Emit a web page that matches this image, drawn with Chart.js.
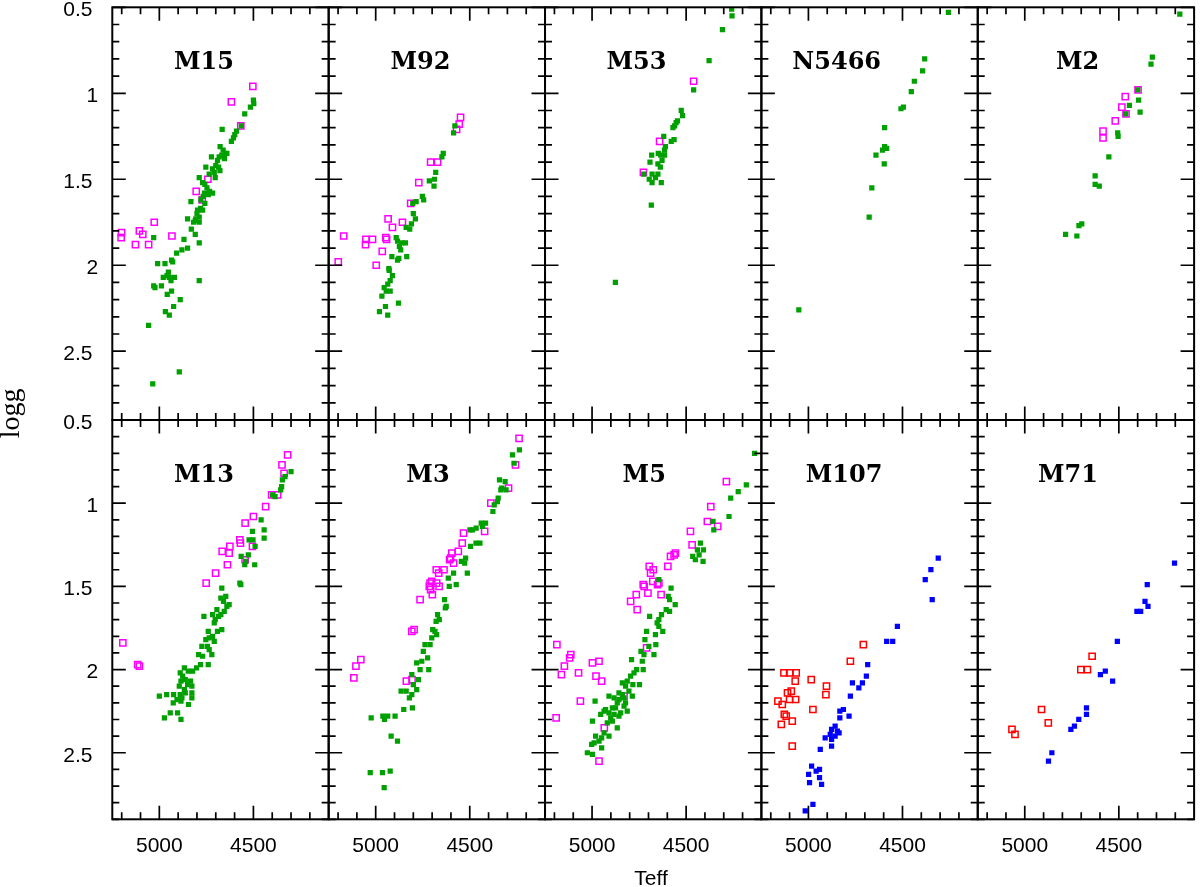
<!DOCTYPE html>
<html>
<head>
<meta charset="utf-8">
<title>Teff - logg</title>
<script src="https://cdn.jsdelivr.net/npm/chart.js@4.4.1/dist/chart.umd.min.js"></script>
<style>
  html, body { margin: 0; padding: 0; background: #fff; }
  #wrap { width: 1200px; height: 887px; }
</style>
</head>
<body>
<div id="wrap"><canvas id="c" width="1200" height="887"></canvas></div>
<script>
// axis ranges and ticks
const teffMin = 4100, teffMax = 5250;
const loggMin = 0.5, loggMax = 2.9;
const teffTicks = [5200, 5100, 5000, 4900, 4800, 4700, 4600, 4500, 4400, 4300, 4200];
const teffLabels = [5000, 4500];
const loggTicks = [0.5, 0.6, 0.7, 0.8, 0.9, 1, 1.1, 1.2, 1.3, 1.4, 1.5, 1.6, 1.7, 1.8, 1.9,
                   2, 2.1, 2.2, 2.3, 2.4, 2.5, 2.6, 2.7, 2.8, 2.9];
const loggLabels = [0.5, 1, 1.5, 2, 2.5];

// [Teff, logg] pairs
const m15Filled = [[4500,1.04],[4498,1.06],[4516,1.08],[4546,1.12],[4564,1.19],[4590,1.22],[4599,1.24],[4606,1.26],[4617,1.28],[4666,1.21],[4677,1.31],[4661,1.33],[4650,1.35],[4641,1.35],[4668,1.36],[4654,1.38],[4682,1.37],[4691,1.39],[4723,1.37],[4700,1.42],[4685,1.43],[4678,1.45],[4717,1.44],[4708,1.46],[4753,1.43],[4735,1.47],[4703,1.49],[4788,1.49],[4770,1.52],[4758,1.53],[4747,1.55],[4733,1.57],[4717,1.58],[4740,1.59],[4760,1.58],[4767,1.60],[4779,1.62],[4758,1.64],[4832,1.63],[4781,1.67],[4797,1.68],[4800,1.70],[4770,1.68],[4788,1.72],[4806,1.73],[4850,1.73],[4809,1.74],[4788,1.75],[4818,1.75],[4830,1.79],[4809,1.82],[4788,1.87],[4869,1.85],[4850,1.90],[4880,1.91],[4908,1.93],[5030,1.84],[5009,1.99],[4970,1.99],[4935,1.97],[4929,1.98],[4952,2.04],[4959,2.06],[4979,2.07],[4947,2.07],[4920,2.07],[4938,2.09],[4989,2.12],[5030,2.12],[5023,2.13],[4935,2.15],[4958,2.17],[4889,2.20],[4924,2.24],[4968,2.27],[4947,2.29],[4788,2.09],[5057,2.35],[4894,2.62],[5035,2.69]];
const m15Open = [[4503,0.96],[4617,1.05],[4567,1.19],[4742,1.50],[4804,1.57],[4772,1.62],[5027,1.75],[5201,1.81],[5106,1.80],[5203,1.84],[5088,1.82],[5127,1.88],[5057,1.88],[4933,1.83]];

const m92Filled = [[4579,1.19],[4586,1.23],[4641,1.35],[4648,1.37],[4681,1.46],[4688,1.50],[4715,1.51],[4690,1.54],[4752,1.60],[4745,1.62],[4785,1.63],[4803,1.64],[4800,1.70],[4789,1.73],[4810,1.76],[4838,1.78],[4819,1.79],[4891,1.84],[4884,1.86],[4861,1.87],[4842,1.87],[4874,1.89],[4867,1.91],[4914,1.95],[4877,1.96],[4884,1.97],[4835,1.95],[4930,2.02],[4928,2.03],[4911,2.06],[4923,2.09],[4936,2.11],[4955,2.13],[4923,2.15],[4944,2.15],[4967,2.18],[4879,2.22],[4948,2.24],[4980,2.27],[4936,2.29]];
const m92Open = [[4549,1.14],[4556,1.18],[4570,1.21],[4708,1.40],[4671,1.40],[4771,1.52],[4814,1.64],[4934,1.73],[4911,1.78],[4858,1.75],[5170,1.83],[5052,1.85],[5017,1.85],[5054,1.88],[4946,1.84],[4942,1.85],[4965,1.92],[5199,1.98],[4997,2.00]];

const m53Filled = [[4258,0.51],[4256,0.55],[4307,0.63],[4378,0.81],[4460,0.98],[4526,1.10],[4519,1.13],[4546,1.16],[4553,1.17],[4561,1.19],[4570,1.20],[4619,1.25],[4564,1.27],[4579,1.28],[4610,1.31],[4615,1.33],[4648,1.35],[4615,1.36],[4683,1.36],[4635,1.36],[4628,1.39],[4692,1.40],[4650,1.41],[4637,1.43],[4681,1.47],[4650,1.47],[4725,1.47],[4663,1.49],[4696,1.50],[4681,1.52],[4632,1.52],[4685,1.65],[4876,2.10]];
const m53Open = [[4460,0.93],[4641,1.28],[4727,1.46]];

const n5466Filled = [[4256,0.53],[4382,0.80],[4393,0.87],[4437,0.93],[4453,0.99],[4495,1.08],[4508,1.09],[4595,1.20],[4595,1.31],[4584,1.32],[4606,1.33],[4641,1.36],[4597,1.41],[4663,1.55],[4677,1.72],[5051,2.26]];
const n5466Open = [];

const m2Filled = [[4176,0.54],[4322,0.79],[4329,0.83],[4400,0.98],[4395,1.04],[4444,1.07],[4387,1.11],[4464,1.12],[4506,1.23],[4504,1.25],[4553,1.37],[4626,1.48],[4626,1.53],[4604,1.54],[4697,1.76],[4712,1.77],[4783,1.82],[4723,1.83]];
const m2Open = [[4398,0.98],[4466,1.02],[4484,1.08],[4462,1.12],[4519,1.16],[4584,1.22],[4584,1.26]];

const m13Filled = [[4300,0.81],[4332,0.84],[4346,0.86],[4350,0.90],[4355,0.92],[4399,0.95],[4385,0.96],[4459,1.10],[4443,1.16],[4505,1.17],[4443,1.21],[4502,1.22],[4523,1.22],[4491,1.26],[4527,1.31],[4565,1.32],[4541,1.35],[4546,1.37],[4493,1.37],[4572,1.48],[4567,1.49],[4668,1.51],[4647,1.56],[4673,1.57],[4659,1.59],[4629,1.61],[4641,1.62],[4694,1.64],[4655,1.65],[4673,1.67],[4717,1.67],[4763,1.68],[4685,1.68],[4703,1.70],[4708,1.72],[4668,1.76],[4740,1.77],[4691,1.77],[4717,1.80],[4735,1.81],[4753,1.82],[4708,1.83],[4774,1.86],[4744,1.86],[4735,1.88],[4721,1.91],[4791,1.91],[4770,1.92],[4740,1.97],[4781,1.97],[4802,1.99],[4823,2.01],[4846,2.01],[4867,1.99],[4889,2.02],[4876,2.04],[4862,2.06],[4885,2.07],[4834,2.07],[4827,2.10],[4850,2.09],[4894,2.10],[4867,2.12],[4889,2.15],[4827,2.14],[4862,2.14],[4827,2.17],[4880,2.17],[4906,2.18],[4885,2.19],[4926,2.20],[4845,2.21],[5000,2.16],[4961,2.15],[4924,2.15],[4942,2.26],[4903,2.26],[4973,2.29],[4885,2.30]];
const m13Open = [[4318,0.71],[4348,0.77],[4337,0.82],[4403,0.95],[4371,0.95],[4435,1.02],[4500,1.08],[4544,1.12],[4572,1.22],[4569,1.24],[4625,1.26],[4666,1.29],[4629,1.30],[4505,1.26],[4544,1.34],[4638,1.37],[4701,1.42],[4751,1.48],[5194,1.84],[5115,1.97],[5106,1.98]];

const m3Filled = [[4236,0.68],[4273,0.71],[4264,0.76],[4312,0.87],[4342,0.86],[4330,0.91],[4335,0.92],[4307,0.92],[4349,0.97],[4353,0.99],[4370,1.01],[4377,1.05],[4416,1.12],[4439,1.12],[4432,1.14],[4466,1.15],[4485,1.16],[4499,1.16],[4446,1.24],[4467,1.24],[4496,1.26],[4522,1.33],[4545,1.35],[4527,1.36],[4586,1.42],[4513,1.42],[4614,1.45],[4572,1.49],[4609,1.50],[4634,1.58],[4625,1.62],[4630,1.63],[4671,1.67],[4662,1.70],[4679,1.71],[4697,1.76],[4685,1.77],[4676,1.79],[4702,1.81],[4738,1.85],[4711,1.85],[4747,1.89],[4724,1.93],[4755,1.95],[4782,1.96],[4764,2.00],[4718,2.00],[4808,2.03],[4773,2.06],[4800,2.09],[4782,2.12],[4865,2.13],[4838,2.13],[4808,2.15],[4821,2.17],[4851,2.24],[4805,2.23],[5024,2.29],[4962,2.28],[4953,2.30],[4936,2.28],[4897,2.28],[4918,2.40],[4884,2.43],[5029,2.62],[4964,2.62],[4923,2.61],[4955,2.71]];
const m3Open = [[4238,0.61],[4257,0.77],[4294,0.91],[4388,1.00],[4421,1.17],[4533,1.18],[4540,1.24],[4561,1.29],[4595,1.30],[4607,1.34],[4586,1.36],[4602,1.33],[4678,1.40],[4665,1.42],[4637,1.40],[4702,1.47],[4711,1.48],[4676,1.48],[4663,1.50],[4715,1.50],[4708,1.52],[4699,1.55],[4764,1.58],[4808,1.77],[4796,1.76],[5079,1.94],[5105,1.98],[5116,2.05],[4837,2.07],[4807,2.06]];

const m5Filled = [[4136,0.70],[4180,0.89],[4223,0.93],[4263,0.97],[4272,1.08],[4357,1.11],[4353,1.16],[4424,1.24],[4408,1.28],[4440,1.28],[4431,1.31],[4465,1.32],[4451,1.34],[4410,1.35],[4645,1.46],[4580,1.51],[4595,1.56],[4588,1.58],[4558,1.61],[4606,1.64],[4588,1.65],[4631,1.67],[4694,1.68],[4645,1.70],[4654,1.72],[4645,1.74],[4624,1.77],[4663,1.79],[4710,1.77],[4719,1.82],[4661,1.85],[4698,1.86],[4740,1.89],[4724,1.91],[4671,1.91],[4733,1.95],[4790,1.94],[4728,2.00],[4763,2.00],[4777,2.02],[4795,2.04],[4813,2.07],[4839,2.08],[4783,2.09],[4748,2.09],[4822,2.10],[4804,2.13],[4839,2.15],[4786,2.16],[4910,2.16],[4883,2.17],[4857,2.18],[4866,2.20],[4822,2.20],[4984,2.19],[4928,2.24],[4892,2.23],[4830,2.22],[4875,2.23],[4848,2.26],[4813,2.25],[4910,2.26],[4936,2.25],[4954,2.27],[4883,2.27],[4901,2.29],[4857,2.28],[4892,2.31],[4998,2.31],[4919,2.32],[4866,2.35],[4936,2.38],[4949,2.41],[4981,2.40],[4910,2.40],[4963,2.43],[4989,2.44],[5002,2.45],[4949,2.47],[5025,2.50],[4998,2.51],[4857,2.14],[4830,2.17]];
const m5Open = [[4286,0.87],[4369,1.02],[4387,1.11],[4332,1.14],[4477,1.17],[4468,1.25],[4557,1.30],[4564,1.31],[4583,1.32],[4597,1.38],[4696,1.38],[4675,1.40],[4689,1.42],[4677,1.47],[4645,1.48],[4652,1.49],[4728,1.49],[4723,1.50],[4703,1.54],[4633,1.55],[4765,1.55],[4795,1.59],[4760,1.64],[4710,1.87],[5187,1.85],[5113,1.91],[5119,1.93],[5147,1.98],[5163,2.03],[5072,2.02],[4998,1.96],[4963,1.95],[4979,2.04],[4949,2.07],[5062,2.19],[4830,2.16],[5191,2.29],[4935,2.35],[4963,2.55]];

const m107Filled = [[4310,1.33],[4349,1.40],[4379,1.46],[4342,1.58],[4527,1.74],[4584,1.83],[4552,1.83],[4685,1.97],[4692,2.04],[4766,2.08],[4713,2.08],[4732,2.11],[4777,2.16],[4814,2.24],[4833,2.25],[4833,2.29],[4784,2.28],[4858,2.34],[4877,2.36],[4846,2.37],[4837,2.38],[4884,2.39],[4858,2.40],[4911,2.41],[4877,2.42],[4877,2.46],[4937,2.48],[4983,2.58],[4941,2.60],[4959,2.61],[4999,2.63],[4941,2.65],[4994,2.68],[4930,2.69],[4976,2.81],[5017,2.85]];
const m107Open = [[4708,1.85],[4777,1.95],[4985,2.06],[4904,2.10],[4907,2.15],[4976,2.24],[5130,2.02],[5100,2.02],[5065,2.02],[5070,2.07],[5111,2.14],[5091,2.13],[5100,2.18],[5068,2.18],[5162,2.19],[5139,2.21],[5128,2.27],[5118,2.28],[5086,2.31],[5144,2.33],[5086,2.46]];

const m71Filled = [[4204,1.36],[4349,1.49],[4361,1.59],[4345,1.62],[4404,1.65],[4384,1.65],[4508,1.83],[4572,2.01],[4598,2.03],[4533,2.07],[4672,2.23],[4672,2.27],[4713,2.30],[4736,2.34],[4755,2.36],[4856,2.50],[4874,2.55]];
const m71Open = [[4642,1.92],[4702,2.00],[4667,2.00],[4911,2.24],[4875,2.32],[5068,2.36],[5052,2.39]];

const clusterNames = ['M15', 'M92', 'M53', 'N5466', 'M2', 'M13', 'M3', 'M5', 'M107', 'M71'];
const filledSets = [m15Filled, m92Filled, m53Filled, n5466Filled, m2Filled, m13Filled, m3Filled, m5Filled, m107Filled, m71Filled];
const openSets = [m15Open, m92Open, m53Open, n5466Open, m2Open, m13Open, m3Open, m5Open, m107Open, m71Open];

// styling
const green = '#00a000', magenta = '#ff00ff', blue = '#0000ff', red = '#ff0000';
const filledColors = [green, green, green, green, green, green, green, green, blue, blue];
const openColors = [magenta, magenta, magenta, magenta, magenta, magenta, magenta, magenta, red, red];
const labelCenter = [91.7, 91.7, 91.5, 75.3, 99.8, 91.7, 99.3, 99.2, 82.7, 90.3]; // px from panel left
const rowWeights = [412.7, 399.3];
const tickFont = { family: "'Liberation Sans', Arial, sans-serif", size: 21 };

const toXY = arr => arr.map(p => ({ x: p[0], y: p[1] }));

const datasets = [];
clusterNames.forEach((name, i) => {
  const col = i % 5, row = Math.floor(i / 5);
  datasets.push({
    label: name,
    data: toXY(filledSets[i]),
    xAxisID: 'x' + col,
    yAxisID: 'y' + row,
    showLine: false,
    pointStyle: 'rect',
    pointRadius: 3.7,
    pointHoverRadius: 3.7,
    pointBackgroundColor: filledColors[i],
    pointBorderColor: filledColors[i],
    pointBorderWidth: 0
  });
  datasets.push({
    label: name + ' open',
    data: toXY(openSets[i]),
    xAxisID: 'x' + col,
    yAxisID: 'y' + row,
    showLine: false,
    pointStyle: 'rect',
    pointRadius: 4.4,
    pointHoverRadius: 4.4,
    pointBackgroundColor: 'rgba(0,0,0,0)',
    pointBorderColor: openColors[i],
    pointBorderWidth: 1.5
  });
});

const scales = {};
for (let c = 0; c < 5; c++) {
  scales['x' + c] = {
    type: 'linear',
    position: 'bottom',
    stack: 'cols',
    stackWeight: 1,
    weight: c,
    min: teffMin,
    max: teffMax,
    reverse: true,
    afterBuildTicks: s => { s.ticks = teffTicks.map(v => ({ value: v })); },
    afterFit: s => {
      s.height = 67.7;
      s.paddingLeft = 0; s.paddingRight = 0; s.paddingTop = 0; s.paddingBottom = 0;
    },
    grid: { display: false, drawTicks: false },
    border: { display: false },
    ticks: {
      autoSkip: false,
      maxRotation: 0,
      padding: 14,
      color: '#000',
      font: tickFont,
      callback: v => teffLabels.includes(v) ? String(v) : ''
    }
  };
}
for (let r = 0; r < 2; r++) {
  scales['y' + r] = {
    type: 'linear',
    position: 'left',
    stack: 'rows',
    stackWeight: rowWeights[r],
    weight: 1 - r,
    min: loggMin,
    max: loggMax,
    reverse: true,
    afterBuildTicks: s => { s.ticks = loggTicks.map(v => ({ value: v })); },
    afterFit: s => {
      s.width = 112.3;
      s.paddingLeft = 0; s.paddingRight = 0; s.paddingTop = 0; s.paddingBottom = 0;
    },
    grid: { display: false, drawTicks: false },
    border: { display: false },
    ticks: {
      autoSkip: false,
      padding: 14,
      labelOffset: 3,
      color: '#000',
      font: tickFont,
      // integers sit a little further right than decimals in the original
      callback: v => loggLabels.includes(v) ? (Number.isInteger(v) ? String(v) : v + ' ') : ''
    }
  };
}

// frames with inward ticks on all sides, panel names and axis titles
const panelFrames = {
  id: 'panelFrames',
  afterDraw(chart) {
    const ctx = chart.ctx;
    ctx.save();
    ctx.strokeStyle = '#000';
    ctx.fillStyle = '#000';
    for (let r = 0; r < 2; r++) {
      const ys = chart.scales['y' + r];
      for (let c = 0; c < 5; c++) {
        const xs = chart.scales['x' + c];
        ctx.lineWidth = 1.7;
        ctx.beginPath();
        xs.ticks.forEach(t => {
          const px = xs.getPixelForValue(t.value);
          const len = teffLabels.includes(t.value) ? 13.5 : 7;
          ctx.moveTo(px, ys.top); ctx.lineTo(px, ys.top + len);
          ctx.moveTo(px, ys.bottom); ctx.lineTo(px, ys.bottom - len);
        });
        ys.ticks.forEach(t => {
          const py = ys.getPixelForValue(t.value);
          const len = loggLabels.includes(t.value) ? 13.5 : 7;
          ctx.moveTo(xs.left, py); ctx.lineTo(xs.left + len, py);
          ctx.moveTo(xs.right, py); ctx.lineTo(xs.right - len, py);
        });
        ctx.stroke();
        ctx.lineWidth = 2;
        ctx.strokeRect(xs.left, ys.top, xs.right - xs.left, ys.bottom - ys.top);

        const i = r * 5 + c;
        ctx.font = "bold 24px 'DejaVu Serif', serif";
        ctx.textAlign = 'center';
        ctx.textBaseline = 'alphabetic';
        ctx.fillText(clusterNames[i], xs.left + labelCenter[i], ys.top + 61.5);
      }
    }
    const area = chart.chartArea;
    ctx.font = "21px 'Liberation Sans', Arial, sans-serif";
    ctx.textAlign = 'center';
    ctx.textBaseline = 'alphabetic';
    ctx.fillText('Teff', 651, 885);

    ctx.translate(19, (area.top + area.bottom) / 2);
    ctx.rotate(-Math.PI / 2);
    ctx.font = "28px 'Liberation Serif', 'Times New Roman', serif";
    ctx.fillText('logg', 0, 0);
    ctx.restore();
  }
};

new Chart(document.getElementById('c'), {
  type: 'scatter',
  data: { datasets },
  options: {
    responsive: false,
    animation: false,
    events: [],
    layout: { padding: { left: 0, right: 1.3, top: 7.3, bottom: 0 } },
    scales,
    plugins: {
      legend: { display: false },
      tooltip: { enabled: false },
      title: { display: false }
    }
  },
  plugins: [panelFrames]
});
</script>
</body>
</html>
